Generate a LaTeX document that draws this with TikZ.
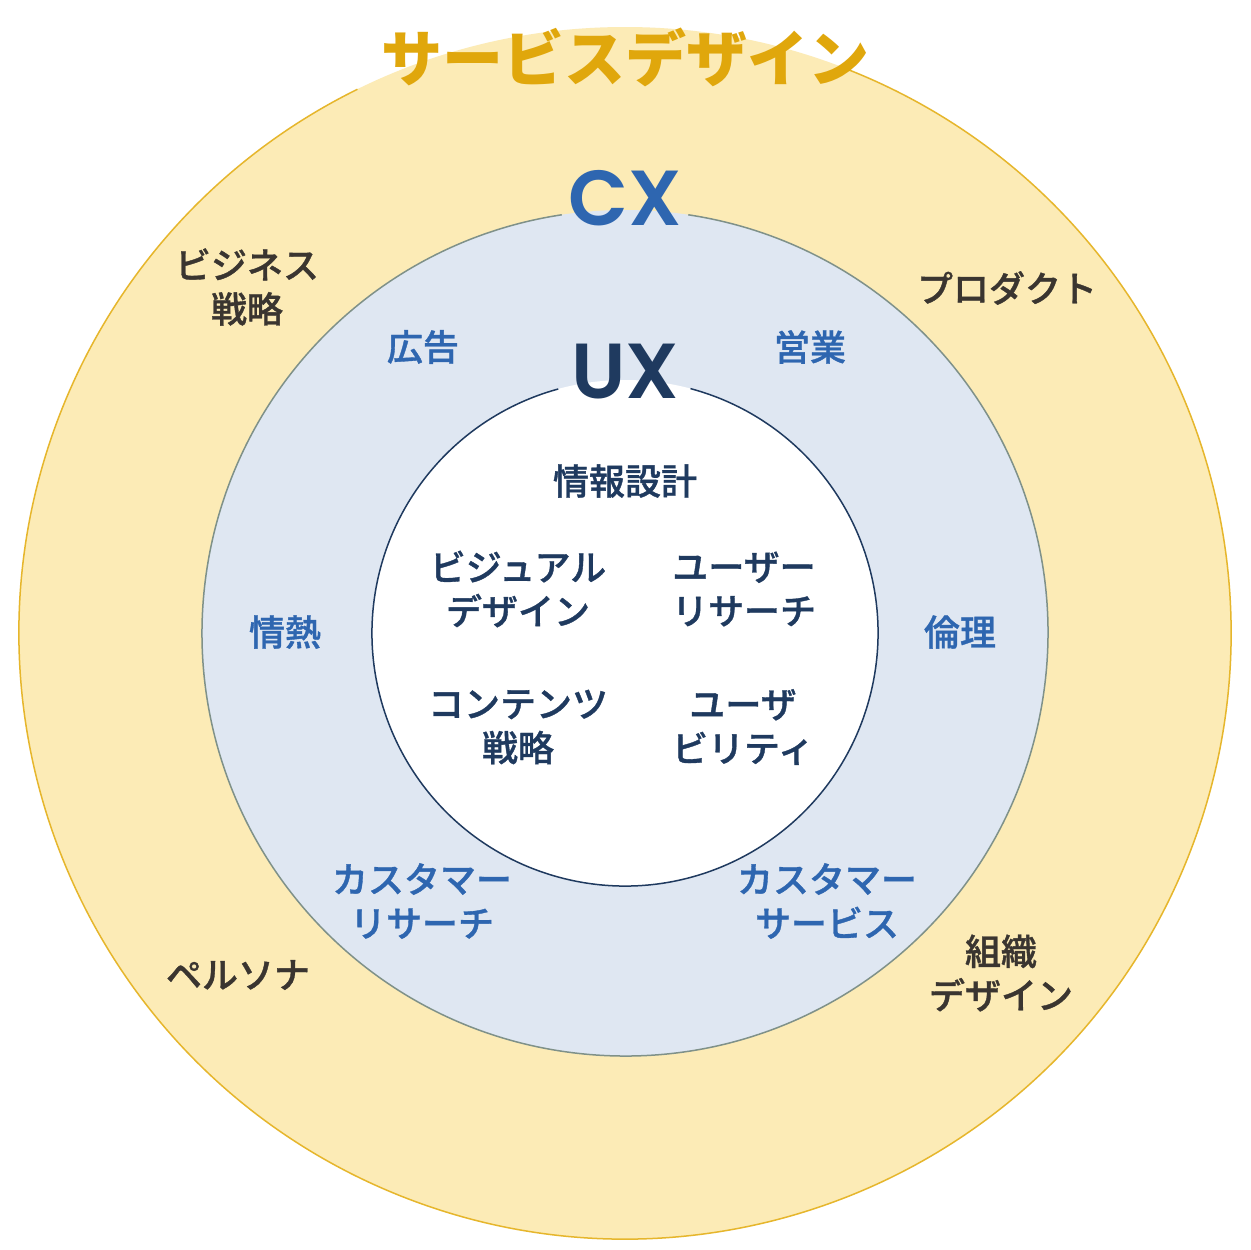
\documentclass[tikz,border=0pt]{standalone}
\usepackage{fontspec}
\newfontfamily\jp{Noto Sans CJK JP}
\newfontfamily\jpm[FakeBold=1]{Noto Sans CJK JP Medium}
\newfontfamily\pop{Poppins SemiBold}
\definecolor{outerfill}{HTML}{FCEBB6}
\definecolor{outerline}{HTML}{E6B62C}
\definecolor{midfill}{HTML}{DFE7F2}
\definecolor{midline}{HTML}{7F9189}
\definecolor{innerline}{HTML}{1F3A5F}
\definecolor{gold}{HTML}{E0A70C}
\definecolor{cxblue}{HTML}{2E66B0}
\definecolor{navy}{HTML}{1F3A5F}
\definecolor{brown}{HTML}{3A3530}
\tikzset{
  lbl/.style={inner sep=0pt, align=center, font=\jpm\fontsize{36}{44}\selectfont},
  outerlbl/.style={lbl, text=brown},
  midlbl/.style={lbl, text=cxblue},
  innerlbl/.style={lbl, text=navy},
  ttl/.style={inner sep=0pt}
}
\begin{document}
\begin{tikzpicture}[x=1pt,y=-1pt]
\useasboundingbox (0,0) rectangle (1250,1250);
\fill[white] (0,0) rectangle (1250,1250);
\coordinate (c) at (625,633);
% outer
\fill[outerfill] (c) circle[radius=606];
\draw[outerline, line width=1.5pt] (c) ++(-68.5:606) arc[start angle=-68.5, end angle=243.8, radius=606];
% middle
\fill[midfill] (c) circle[radius=423];
\draw[midline, line width=1.5pt] (c) ++(-81.4:423) arc[start angle=-81.4, end angle=261.4, radius=423];
% inner
\fill[white] (c) circle[radius=253];
\draw[innerline, line width=1.5pt] (c) ++(-75:253) arc[start angle=-75, end angle=254.7, radius=253];
% titles
\node[ttl, text=gold, font=\jp\bfseries\fontsize{61}{70}\selectfont] (sd) at (625,57) {サービスデザイン};
\node[ttl, text=cxblue, font=\pop\fontsize{78}{80}\selectfont] (cx) at (625,198) {CX};
\node[ttl, text=navy, font=\pop\fontsize{78}{80}\selectfont] (ux) at (625,372) {UX};
% outer labels
\node[outerlbl] (biz) at (247,287) {ビジネス\\戦略};
\node[outerlbl] (prod) at (1007,288) {プロダクト};
\node[outerlbl] (pers) at (238,975) {ペルソナ};
\node[outerlbl] (org) at (1001,973) {組織\\デザイン};
% middle labels
\node[midlbl] (ad) at (423,347) {広告};
\node[midlbl] (sales) at (810,347) {営業};
\node[midlbl] (pass) at (285,632) {情熱};
\node[midlbl] (eth) at (960,632) {倫理};
\node[midlbl] (cr) at (422,901) {カスタマー\\リサーチ};
\node[midlbl] (cs) at (827,901) {カスタマー\\サービス};
% inner labels
\node[innerlbl] (ia) at (625,481) {情報設計};
\node[innerlbl] (vd) at (518,589) {ビジュアル\\デザイン};
\node[innerlbl] (ur) at (744,589) {ユーザー\\リサーチ};
\node[innerlbl] (cst) at (518,727) {コンテンツ\\戦略};
\node[innerlbl] (us) at (743,727) {ユーザ\\ビリティ};
\end{tikzpicture}
\end{document}
